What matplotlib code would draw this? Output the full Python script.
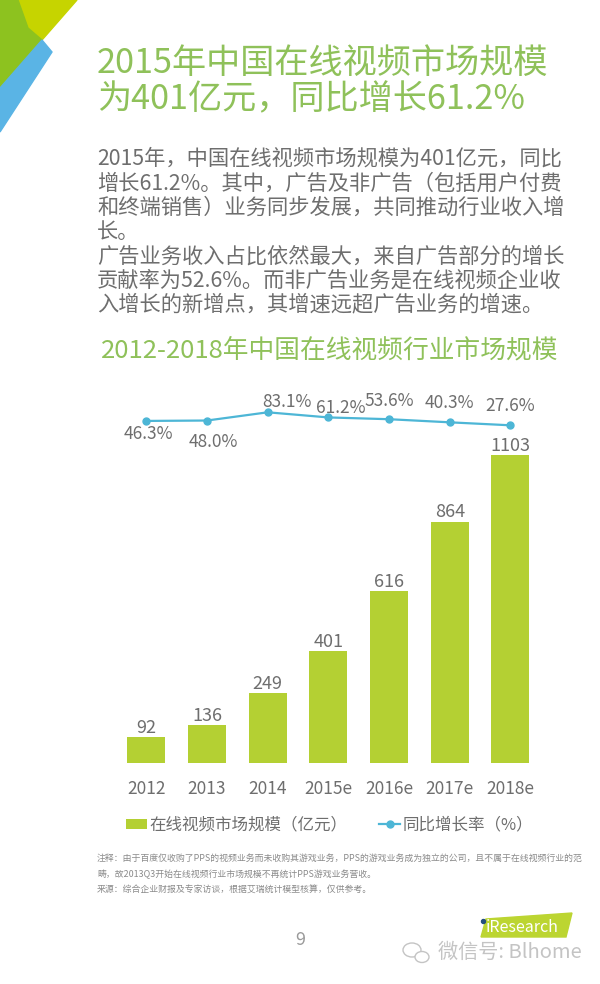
import matplotlib
matplotlib.use('Agg')
import matplotlib.pyplot as plt
from matplotlib.patches import Polygon, Ellipse

plt.rcParams['font.family'] = ['Noto Sans CJK SC', 'DejaVu Sans']

# data
years = ['2012', '2013', '2014', '2015e', '2016e', '2017e', '2018e']
market_size = [92, 136, 249, 401, 616, 864, 1103]        # 亿元
growth_rate = [46.3, 48.0, 83.1, 61.2, 53.6, 40.3, 27.6]  # %

title_lines = ['2015年中国在线视频市场规模', '为401亿元，同比增长61.2%']
body_lines = [
    '2015年，中国在线视频市场规模为401亿元，同比',
    '增长61.2%。其中，广告及非广告（包括用户付费',
    '和终端销售）业务同步发展，共同推动行业收入增',
    '长。',
    '广告业务收入占比依然最大，来自广告部分的增长',
    '贡献率为52.6%。而非广告业务是在线视频企业收',
    '入增长的新增点，其增速远超广告业务的增速。',
]
chart_title = '2012-2018年中国在线视频行业市场规模'
legend_labels = ['在线视频市场规模（亿元）', '同比增长率（%）']
note_lines = [
    '注释：由于百度仅收购了PPS的视频业务而未收购其游戏业务，PPS的游戏业务成为独立的公司，且不属于在线视频行业的范',
    '畴，故2013Q3开始在线视频行业市场规模不再统计PPS游戏业务营收。',
    '来源：综合企业财报及专家访谈，根据艾瑞统计模型核算，仅供参考。',
]

GREEN_T = '#8fc15a'
BAR = '#b4d033'
LINE = '#4db6d6'
GREY = '#6e6e6e'

W, H = 600, 984


def fx(x):
    return x / W


def fy(y):
    return 1 - y / H


def pts(xy):
    return [(fx(a), fy(b)) for a, b in xy]


fig = plt.figure(figsize=(6, 9.84), dpi=100)

# corner decoration
fig.patches.append(Polygon(pts([(18, 0), (77, 0), (42, 40), (28, 28)]),
                           closed=True, color='#c6d400', transform=fig.transFigure))
fig.patches.append(Polygon(pts([(0, 0), (18, 0), (28, 28), (42, 40), (0, 88)]),
                           closed=True, color='#8dc21f', transform=fig.transFigure))
fig.patches.append(Polygon(pts([(42, 40), (52, 52), (0, 132), (0, 88)]),
                           closed=True, color='#5ab4e5', transform=fig.transFigure))

# headings and body text
for i, line in enumerate(title_lines):
    fig.text(fx(97), fy(63 + 37 * i), line, fontsize=24.6, color=GREEN_T,
             ha='left', va='center')
for i, line in enumerate(body_lines):
    fig.text(fx(97), fy(159 + 24.3 * i), line, fontsize=15.3, color=GREY,
             ha='left', va='center')
fig.text(fx(330), fy(350), chart_title, fontsize=18.5, color=GREEN_T,
         ha='center', va='center')

# chart
ax = fig.add_axes([fx(100), fy(763), (560 - 100) / W, (763 - 380) / H])
x = list(range(len(years)))
bars = ax.bar(x, market_size, width=0.626, color=BAR, label=legend_labels[0])
for xi, v in zip(x, market_size):
    ax.annotate(str(v), (xi, v), xytext=(0, 3), textcoords='offset points',
                ha='center', va='baseline', fontsize=13, color=GREY)
ax.set_xlim(-0.763, 6.816)
ax.set_ylim(0, 1371)
ax.set_yticks([])
ax.set_xticks(x, years)
ax.tick_params(axis='x', length=0, pad=12, labelsize=12.5, labelcolor=GREY)
for s in ax.spines.values():
    s.set_visible(False)

ax2 = ax.twinx()
line, = ax2.plot(x, growth_rate, color=LINE, lw=1.6, marker='o', ms=5,
                 label=legend_labels[1])
ax2.set_ylim(-1414, 221)
ax2.axis('off')
# label offsets (px right, px down)
label_offsets = [(2, 12), (6, 20), (19, -11.6), (12, -11), (0, -19.3), (0, -21), (0, -21.3)]
for xi, v, (dx, dy) in zip(x, growth_rate, label_offsets):
    ax2.annotate(f'{v:.1f}%', (xi, v), xytext=(dx * 0.72, -(dy + 1.5) * 0.72),
                 textcoords='offset points', ha='center', va='center',
                 fontsize=12.5, color=GREY)

fig.legend(handles=[bars, line], labels=legend_labels, loc='center left',
           bbox_to_anchor=(fx(126), fy(825)), ncol=2, frameon=False,
           fontsize=11.9, handlelength=1.25, handleheight=0.55,
           handletextpad=0.15, columnspacing=1.95, borderpad=0,
           borderaxespad=0, labelcolor=GREY)

# notes
for i, line_txt in enumerate(note_lines):
    fig.text(fx(97), fy(858 + 16 * i), line_txt, fontsize=6.4, color='#8a8a8a',
             ha='left', va='center')

fig.text(fx(300), fy(940), '9', fontsize=13, color='#9a9a9a', ha='center', va='center')

# iResearch logo
fig.patches.append(Polygon(pts([(486, 919), (572, 913), (566, 937), (481, 937)]),
                           closed=True, color='#bcd531', transform=fig.transFigure))
fig.patches.append(Ellipse((fx(483.5), fy(921.5)), 4 / W, 4 / H, color='#24507e',
                           transform=fig.transFigure))
fig.text(fx(522), fy(928), 'iResearch', fontsize=11.5, color='white',
         ha='center', va='center')

# watermark
fig.patches.append(Ellipse((fx(412), fy(950)), 18 / W, 14 / H, fc='white', ec='#c4c4c4',
                           lw=1, transform=fig.transFigure))
fig.patches.append(Ellipse((fx(422), fy(957)), 14 / W, 11 / H, fc='white', ec='#c4c4c4',
                           lw=1, transform=fig.transFigure))
fig.text(fx(438), fy(952), '微信号: Blhome', fontsize=14.5, color='#c4c4c4',
         ha='left', va='center')

fig.savefig('out.png', dpi=100)
